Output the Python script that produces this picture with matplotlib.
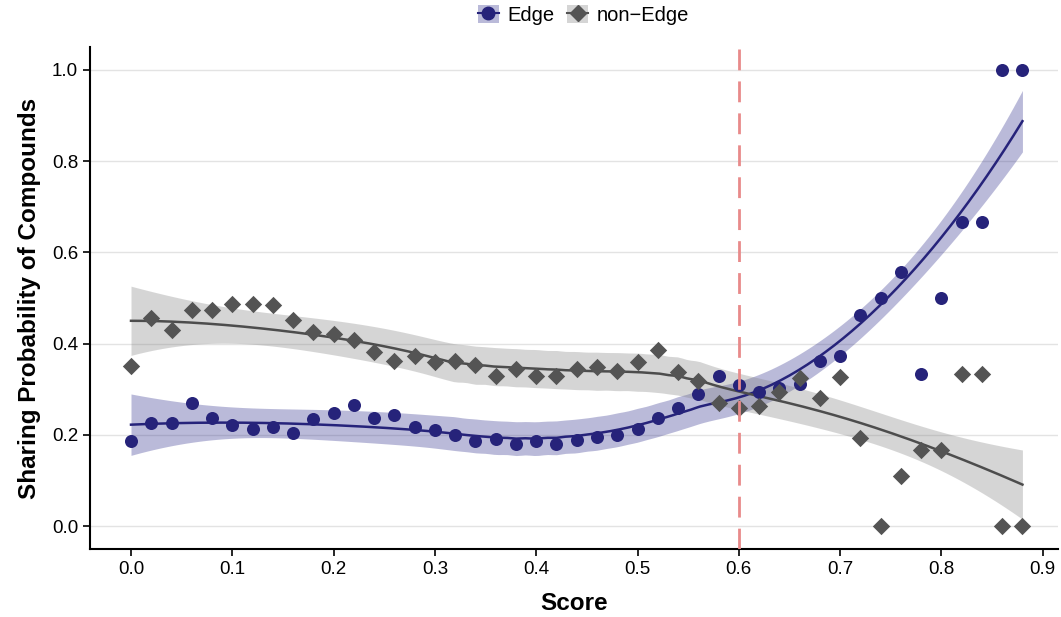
import numpy as np
import matplotlib
matplotlib.use("Agg")
import matplotlib.pyplot as plt
from matplotlib.lines import Line2D
from matplotlib.patches import Patch

plt.rcParams['font.family'] = ['Liberation Sans', 'DejaVu Sans']

score = np.round(np.arange(0, 0.881, 0.02), 2)
edge = [0.186, 0.225, 0.225, 0.271, 0.236, 0.221, 0.214, 0.217, 0.204, 0.234,
        0.249, 0.265, 0.238, 0.243, 0.217, 0.210, 0.199, 0.186, 0.190, 0.179,
        0.186, 0.179, 0.188, 0.195, 0.199, 0.212, 0.236, 0.258, 0.289, 0.330,
        0.309, 0.295, 0.302, 0.311, 0.361, 0.374, 0.462, 0.501, 0.558, 0.333,
        0.501, 0.667, 0.667, 1.0, 1.0]
non_edge = [0.352, 0.457, 0.429, 0.473, 0.473, 0.486, 0.486, 0.484, 0.451, 0.425,
            0.422, 0.407, 0.381, 0.363, 0.374, 0.359, 0.363, 0.354, 0.330, 0.344,
            0.330, 0.330, 0.344, 0.348, 0.339, 0.359, 0.385, 0.337, 0.319, 0.271,
            0.258, 0.263, 0.293, 0.324, 0.280, 0.326, 0.193, 0.0, 0.109, 0.166,
            0.166, 0.333, 0.333, 0.0, 0.0]
threshold = 0.6
labels = ["Edge", "non\u2212Edge"]


def loess_fit(x, y, xs, span=0.75):
    x = np.asarray(x, float); y = np.asarray(y, float)
    n = len(x); q = int(np.floor(n * span))

    def row(x0):
        d = np.abs(x - x0)
        h = np.sort(d)[q - 1]
        w = np.where(d < h, (1 - (d / h) ** 3) ** 3, 0.0)
        X = np.vstack([np.ones(n), x - x0, (x - x0) ** 2]).T
        XtW = X.T * w
        return np.linalg.solve(XtW @ X, XtW)[0]

    L = np.array([row(v) for v in x])
    Ls = np.array([row(v) for v in xs])
    I = np.eye(n)
    M = (I - L).T @ (I - L)
    d1 = np.trace(M)
    res = y - L @ y
    sigma = np.sqrt(np.sum(res ** 2) / d1)
    fit = Ls @ y
    se = sigma * np.sqrt(np.sum(Ls ** 2, axis=1))
    return fit, se


W, H = 1061, 617
fig = plt.figure(figsize=(W / 100, H / 100), dpi=100)
ax = fig.add_axes([90 / W, 1 - 549 / H, (1058 - 90) / W, (549 - 47) / H])

xs = np.linspace(score.min(), score.max(), 200)
cols = [("#26237a", "#26237a", "o", "#2a2a8a"), ("#545454", "#4d4d4d", "D", "#7f7f7f")]
for vals, (pc, lc, m, bc) in zip([edge, non_edge], cols):
    fit, se = loess_fit(score, vals, xs)
    ax.fill_between(xs, fit - 2.02 * se, fit + 2.02 * se, color=bc, alpha=0.32, lw=0, zorder=2)
    ax.plot(xs, fit, color=lc, lw=1.8, zorder=3)
    ax.scatter(score, vals, marker=m, s=88 if m == "o" else 78, color=pc, zorder=4, linewidths=0)

ax.axvline(threshold, color="#e88a8a", lw=2, ls=(0, (7.5, 4)), zorder=5)

ax.set_xlim((90 - 131) / 1013, (1058 - 131) / 1013)
ax.set_ylim(-0.05, 1.05)
ax.set_xticks(np.arange(0, 0.91, 0.1))
ax.set_xticklabels([f"{v:.1f}" for v in np.arange(0, 0.91, 0.1)])
ax.set_yticks(np.arange(0, 1.01, 0.2))
ax.set_yticklabels([f"{v:.1f}" for v in np.arange(0, 1.01, 0.2)])
ax.yaxis.grid(True, color="#e3e3e3", lw=1)
ax.set_axisbelow(True)
for s in ["top", "right"]:
    ax.spines[s].set_visible(False)
for s in ["left", "bottom"]:
    ax.spines[s].set_linewidth(1.5)
ax.tick_params(axis="both", labelsize=13.5, width=1.2, length=5, colors="black")
ax.set_xlabel("Score", fontsize=17.5, fontweight="bold", labelpad=10)
ax.set_ylabel("Sharing Probability of Compounds", fontsize=17.5, fontweight="bold", labelpad=8)

handles = [
    (Patch(facecolor="#2a2a8a", alpha=0.32, lw=0), Line2D([], [], marker="o", color="#26237a", ls="-", lw=1.5, ms=9)),
    (Patch(facecolor="#7f7f7f", alpha=0.32, lw=0), Line2D([], [], marker="D", color="#545454", ls="-", lw=1.5, ms=8)),
]
fig.legend(handles, labels, loc="upper center", bbox_to_anchor=(0.55, 1.022), ncol=2, frameon=False,
           fontsize=14.5, handlelength=1.05, handleheight=1.05, columnspacing=0.6, handletextpad=0.45)

fig.savefig("out.png", dpi=100)
